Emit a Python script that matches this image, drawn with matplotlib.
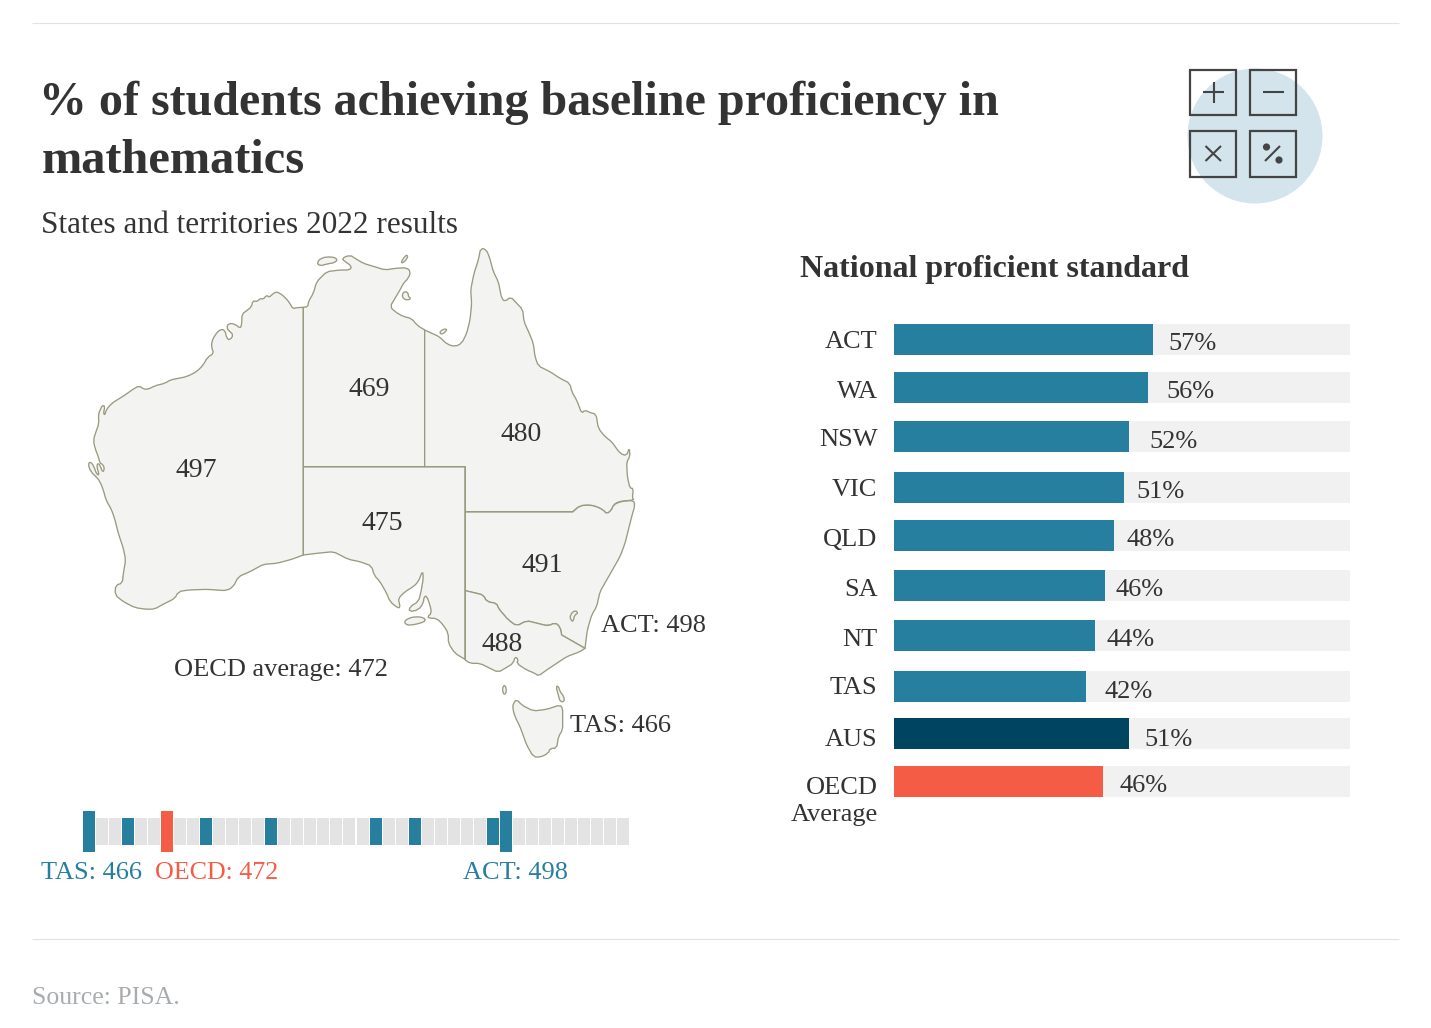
import matplotlib
matplotlib.use("Agg")
import math
import matplotlib.pyplot as plt
from matplotlib.patches import Polygon, Circle, Rectangle

W, H = 1431, 1028
plt.rcParams['font.family'] = ['Liberation Serif', 'DejaVu Serif']

# ---------- data ----------
bar_categories = ["ACT", "WA", "NSW", "VIC", "QLD", "SA", "NT", "TAS", "AUS", "OECD\nAverage"]
bar_values = [56.7, 55.8, 51.6, 50.5, 48.2, 46.2, 44.1, 42.2, 51.5, 45.8]
bar_labels = ["57%", "56%", "52%", "51%", "48%", "46%", "44%", "42%", "51%", "46%"]
scale_low_high = (466, 507)
score_tas = 466
score_oecd = 472
score_act = 498
state_scores = {"WA": 497, "NT": 469, "QLD": 480, "SA": 475, "NSW": 491, "VIC": 488}

# ---------- colours ----------
BLUE = "#277f9f"; NAVY = "#004560"; RED = "#f55c45"; TRACK = "#f1f1f1"; CELL = "#e3e3e3"
INK = "#333333"; LAND = "#f3f3f1"; EDGE = "#9a9a80"; RULE = "#e2e2e2"

# ---------- map outlines (traced, in crop coordinates of three views) ----------
def v1(p): return [(70 + x / 3, 240 + y / 3) for x, y in p]
def v2(p): return [(380 + x / 3, 240 + y / 3) for x, y in p]
def v3(p): return [(380 + x / 3, 500 + y / 3) for x, y in p]

def soften(poly, cut=2.5, straight=25):
    """Round coastline corners by at most `cut` px; keep corners of long border lines sharp."""
    out = []
    n = len(poly)
    for i in range(n):
        (x0, y0), (x1, y1), (x2, y2) = poly[i - 1], poly[i], poly[(i + 1) % n]
        d0 = math.hypot(x1 - x0, y1 - y0) or 1
        d1 = math.hypot(x2 - x1, y2 - y1) or 1
        if d0 > straight or d1 > straight:
            out.append((x1, y1))
            continue
        a = min(cut, d0 * 0.3) / d0
        b = min(cut, d1 * 0.3) / d1
        out.append((x1 + (x0 - x1) * a, y1 + (y0 - y1) * a))
        out.append((x1 + (x2 - x1) * b, y1 + (y2 - y1) * b))
    return out

WA = v1([(700,202),(680,203),(668,206),(660,190),(645,172),(630,160),(617,155),(605,165),(597,172),(590,165),
         (580,178),(570,175),(562,185),(548,182),(545,200),(530,212),(516,222),(515,255),(510,265),(495,252),
         (475,250),(470,265),(480,275),(490,285),(480,300),(470,295),(465,270),(450,268),(435,285),(425,305),
         (425,325),(432,340),(412,352),(400,375),(380,395),(350,410),(300,420),(285,430),(255,437),(235,448),
         (220,447),(208,437),(190,447),(165,465),(125,490),(108,510),(105,525),(100,520),(105,500),(98,495),
         (90,510),(85,525),(87,550),(78,575),(70,600),(75,625),(85,650),(90,670),(97,672),(104,685),(98,698),
         (92,680),(84,668),(80,680),(88,705),(80,703),(72,680),(62,665),(54,672),(62,695),(80,712),(90,725),
         (100,750),(108,780),(125,810),(135,840),(145,880),(160,925),(167,960),(160,1000),(157,1030),(137,1035),
         (135,1065),(160,1085),(195,1103),(230,1108),(255,1107),(275,1095),(315,1075),(325,1055),(355,1050),
         (410,1048),(470,1052),(490,1040),(505,1010),(540,995),(580,973),(620,970),(665,958),(700,945)])
NT = v1([(700,202),(714,200),(715,185),(730,160),(740,125),(770,95),(810,90),(840,90),(845,78),(825,65),(815,55),
         (840,45),(855,55),(880,70),(920,82),(945,90),(975,85),(1010,83),(1022,95),(1015,115),(1000,130),(990,150),
         (975,175),(960,200),(975,215),(1000,230)]) + v2([(95,235),(110,255),(134,270),(134,680)]) + v1([(700,680)])
QLD = v2([(134,270),(160,282),(178,290),(200,312),(225,320),(245,310),(260,280),(270,240),(275,190),(272,150),
          (282,100),(295,60),(302,25),(318,28),(328,50),(340,95),(355,125),(365,175),(375,185),(392,170),(410,190),
          (428,208),(432,245),(450,285),(460,310),(465,350),(475,378),(510,395),(540,415),(570,430),(575,455),
          (590,480),(605,520),(615,510),(630,518),(648,522),(655,565),(675,590),(695,605),(720,640),(740,648),
          (748,622),(750,650),(740,665),(742,710),(750,745),(760,745),(757,775),(762,780),(740,782),(715,785),
          (700,795),(695,810),(680,822),(670,810),(650,800),(630,795),(600,797),(578,815),(256,815),(256,680),(134,680)])
SA = v1([(700,680),(700,945),(740,940),(790,935),(810,945),(835,958),(870,965),(905,978),(912,1005),(930,1025),
         (950,1060),(960,1085),(985,1105),(990,1100)]) + \
     v3([(58,310),(55,295),(75,275),(100,260),(115,245),(128,212),(130,235),(122,280),
         (115,305),(90,320),(87,335),(115,330),(130,310),(132,290),(140,288),(150,315),(155,340),(142,350),(150,355),
         (170,355),(190,375),(205,400),(205,430),(225,460),(255,478),(255,-100)]) + v1([(700,680)])
NSW_BORDER = [(615,445),(545,405),(540,380),(525,368),(505,378),(480,372),(440,362),(410,378),(385,360),(355,325),
              (350,310),(320,305),(310,285),(290,280),(256,272)]
NSW = v3([(256,36),(578,36),(600,17),(630,15),(650,20),(670,30),(680,42),(695,30),(700,15),(720,5),(760,1),(765,15),
          (755,50),(745,90),(735,130),(720,170),(700,205),(680,240),(660,275),(650,320),(635,345),(622,390)] + NSW_BORDER)
VIC = v3(NSW_BORDER[::-1] + [(600,455),(560,470),(530,490),(500,510),(475,528),(465,520),(440,510),(410,490),(415,478),
         (405,470),(400,490),(375,505),(355,517),(330,505),(300,490),(270,490),(256,480)])
TAS = v3([(400,610),(410,598),(425,615),(460,633),(500,628),(540,615),(548,625),(548,690),(535,710),(530,745),(510,745),
          (505,760),(480,772),(460,770),(440,735),(420,680),(405,650),(398,625)])
ISLANDS = [
    v1([(740,68),(755,53),(785,50),(803,57),(795,68),(770,72),(750,78)]),
    v1([(992,68),(1005,48),(1013,45),(1012,55),(1000,68)]),
    v2([(65,165),(75,153),(85,160),(85,170),(93,175),(85,180),(72,178)]),
    v2([(178,278),(188,268),(202,267),(195,277),(185,283)]),
    v3([(72,365),(85,355),(105,350),(130,352),(138,362),(120,370),(95,375),(80,375)]),
    v3([(570,345),(585,330),(595,340),(583,345),(580,365),(572,360)]),
    v3([(368,560),(376,555),(380,575),(373,585),(368,575)]),
    v3([(528,560),(535,558),(540,575),(552,590),(553,605),(540,605),(535,585)]),
]

# ---------- figure ----------
fig = plt.figure(figsize=(W / 100, H / 100), dpi=100, facecolor="white")
ax = fig.add_axes([0, 0, 1, 1])
ax.set_xlim(0, W); ax.set_ylim(H, 0); ax.axis("off")

def label(x, y, s, size, color=INK, ha="left", weight="normal", **kw):
    ax.text(x, y, s, fontsize=size, color=color, ha=ha, va="baseline", fontweight=weight, **kw)

for y in (23, 939):
    ax.plot([32, 1399], [y, y], color=RULE, lw=0.8, solid_capstyle="butt")

label(39, 115, "% of students achieving baseline proficiency in", 34.6, weight="bold")
label(42, 173, "mathematics", 34.8, weight="bold")
label(41, 233, "States and territories 2022 results", 22.5)
label(800, 277, "National proficient standard", 23, weight="bold")
label(32, 1004, "Source: PISA.", 18.5, color="#a8acaf")

# icon
ax.add_patch(Circle((1255, 136), 67.5, fc="#d3e4ec", ec="none"))
for x0, y0 in [(1190, 69.5), (1250, 69.5), (1190, 131), (1250, 131)]:
    ax.add_patch(Rectangle((x0, y0), 45.5, 45.5, fc="none", ec="#444444", lw=1.6))
ic = dict(color="#444444", lw=1.5, solid_capstyle="butt")
ax.plot([1203, 1224], [92, 92], **ic); ax.plot([1213.5, 1213.5], [82, 103], **ic)
ax.plot([1263, 1284], [92, 92], **ic)
ax.plot([1205.5, 1221], [146, 161], **ic); ax.plot([1221, 1205.5], [146, 161], **ic)
ax.plot([1265, 1280], [161, 146], **ic)
ax.add_patch(Circle((1266.5, 147), 3.6, fc="#444444", ec="none"))
ax.add_patch(Circle((1279, 160), 3.6, fc="#444444", ec="none"))

# map
for poly in [WA, SA, NT, QLD, NSW, VIC, TAS] + ISLANDS:
    ax.add_patch(Polygon(soften(poly), closed=True, fc=LAND, ec=EDGE, lw=0.95, joinstyle="round"))

map_text_pos = {"WA": (196, 477), "NT": (369, 396), "QLD": (521, 441), "SA": (382, 530), "NSW": (542, 572), "VIC": (502, 651)}
for st, (x, y) in map_text_pos.items():
    label(x, y, str(state_scores[st]), 20, ha="center")
label(601, 632, f"ACT: {score_act}", 19)
label(570, 732, f"TAS: {score_tas}", 19)
label(174, 676, f"OECD average: {score_oecd}", 19)

# score strip: one cell per score point, 13 px per point
strip_left, strip_right = 83, 629
ax_s = fig.add_axes([strip_left / W, 1 - 860 / H, (strip_right - strip_left) / W, 60 / H])
ax_s.set_xlim(scale_low_high[0] - 6 / 13, scale_low_high[1] + 6 / 13 + 0.0)
ax_s.set_ylim(60, 0); ax_s.axis("off")
hi = set(state_scores.values()) | {score_tas, score_act}
tall = {score_tas, score_act, score_oecd}
for s in range(scale_low_high[0], scale_low_high[1] + 1):
    c = CELL
    if s in hi: c = BLUE
    if s == score_oecd: c = RED
    if s in tall:
        ax_s.bar(s, 41, bottom=11, width=0.92, color=c, zorder=3)
    else:
        ax_s.bar(s, 27, bottom=17.5, width=0.92, color=c, zorder=2)
label(41, 879, f"TAS: {score_tas}", 19, color=BLUE)
label(155, 879, f"OECD: {score_oecd}", 18.7, color=RED)
label(463, 879, f"ACT: {score_act}", 19, color=BLUE)

# bars (y axis in figure pixels so the uneven row spacing holds)
row_centres = [339.5, 387.5, 436.5, 487.5, 535.5, 585.5, 635.5, 686.5, 733.5, 781.5]
value_baselines = [350.5, 398.5, 447.5, 498.5, 546.5, 596.5, 646.5, 697.5, 745.5, 792.5]
category_baselines = [347.5, 397.5, 446.5, 496.5, 546.5, 595.5, 645.5, 694.5, 745.5, 794.5]
label_gaps = [16, 18, 20, 12, 13, 11, 11, 18, 16, 17]
ax_b = fig.add_axes([894 / W, 0, 456 / W, 1])
ax_b.set_xlim(0, 100); ax_b.set_ylim(H, 0); ax_b.axis("off")
colors = [BLUE] * 8 + [NAVY, RED]
ax_b.barh(row_centres, [100] * 10, height=31, color=TRACK, zorder=1)
ax_b.barh(row_centres, bar_values, height=31, color=colors, zorder=2)
for c, by, cy, v, t, g in zip(bar_categories, value_baselines, category_baselines, bar_values, bar_labels, label_gaps):
    ax_b.text(v, by, t, fontsize=19, color=INK, ha="left", va="baseline", zorder=3,
              transform=ax_b.transData + matplotlib.transforms.ScaledTranslation(g * 0.72 / 72, 0, fig.dpi_scale_trans))
    parts = c.split("\n")
    label(877.5, cy, parts[0], 19, ha="right")
    if len(parts) > 1:
        label(877.5, cy + 26, parts[1], 19, ha="right")

fig.savefig("out.png", dpi=100, facecolor="white")
